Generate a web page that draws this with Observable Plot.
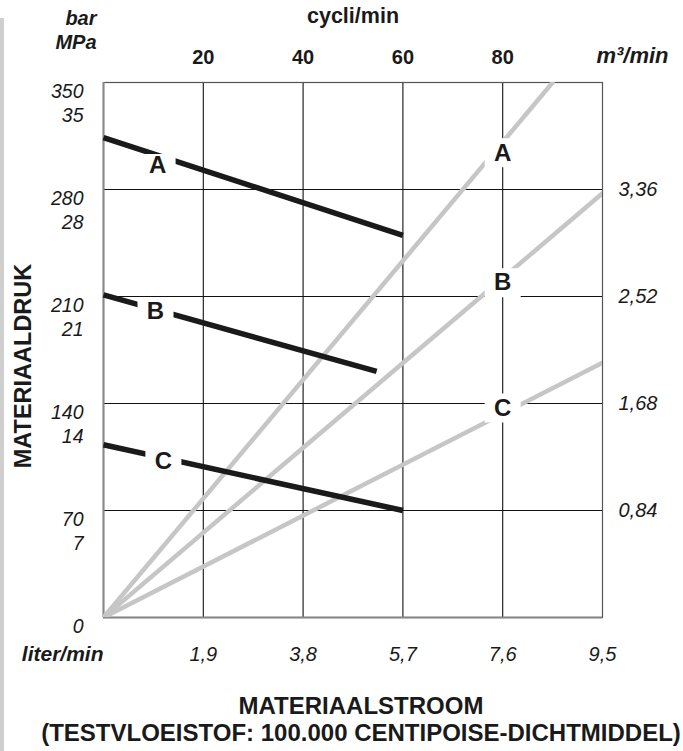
<!DOCTYPE html>
<html><head><meta charset="utf-8">
<script src="https://cdn.jsdelivr.net/npm/d3@7"></script>
<script src="https://cdn.jsdelivr.net/npm/@observablehq/plot@0.6"></script>
<style>
body{margin:0;background:#fff;}
#wrap{position:relative;width:683px;height:751px;overflow:hidden;}
#edge{position:absolute;left:0;top:18px;width:4px;height:733px;background:#cfcfcf;}
#wrap svg{position:absolute;left:0;top:0;}
</style></head><body><div id="wrap"><div id="edge"></div></div>
<script>
// ---- data ----
const literTicks = [1.9, 3.8, 5.7, 7.6, 9.5];
const cycliTicks = [20, 40, 60, 80];
const barTicks = [0, 70, 140, 210, 280, 350];
const mpaTicks = [7, 14, 21, 28, 35];
const m3Ticks = [0.84, 1.68, 2.52, 3.36];
const m3PerBar = 0.012;

const series = ["A", "B", "C"];
// material pressure lines (bar vs liter/min)
const pressureFlow = [[0, 5.7], [0, 5.2], [0, 5.7]];
const pressureBar = [[314, 250], [211, 161], [113, 70]];
// air consumption lines (m3/min vs liter/min)
const airFlow = [[0, 8.55], [0, 9.5], [0, 9.5]];
const airM3 = [[0, 4.2], [0, 3.33], [0, 2.0]];
// label anchors
const pressureLabelFlow = [1.03, 0.99, 1.14];
const pressureLabelBar = [296, 200, 102];
const airLabelFlow = [7.6, 7.6, 7.6];
const airLabelBar = [304, 219, 137];

// ---- build tables ----
const fmt = d => String(d).replace(".", ",");
const pressureRows = series.flatMap((s, i) => pressureFlow[i].map((f, j) => ({series: s, flow: f, bar: pressureBar[i][j]})));
const airRows = series.flatMap((s, i) => airFlow[i].map((f, j) => ({series: s, flow: f, bar: airM3[i][j] / m3PerBar})));
const pressureLabels = series.map((s, i) => ({s, flow: pressureLabelFlow[i], bar: pressureLabelBar[i]}));
const airLabels = series.map((s, i) => ({s, flow: airLabelFlow[i], bar: airLabelBar[i]}));

const box = (w, h) => ({draw(ctx) { ctx.moveTo(-w, -h); ctx.lineTo(w, -h); ctx.lineTo(w, h); ctx.lineTo(-w, h); ctx.closePath(); }});

const font = "'Liberation Sans', Arial, Helvetica, sans-serif";
const ink = "#1a1a1a";

const chart = Plot.plot({
  width: 683, height: 751,
  marginLeft: 103, marginRight: 81, marginTop: 82, marginBottom: 134,
  style: {fontFamily: font, background: "transparent", overflow: "visible", color: ink},
  x: {domain: [0, 9.5], axis: null},
  y: {domain: [0, 350], axis: null},
  marks: [
    Plot.gridX(literTicks.slice(0, 4), {stroke: "#111", strokeOpacity: 1, strokeWidth: 1.1}),
    Plot.gridY(barTicks.slice(1, 5), {stroke: "#111", strokeOpacity: 1, strokeWidth: 1.1}),
    Plot.frame({stroke: "#555", strokeWidth: 1.2}),
    Plot.ruleX([0], {stroke: "#888", strokeWidth: 2}),
    Plot.ruleY([0], {stroke: "#888", strokeWidth: 2}),
    Plot.line(airRows, {x: "flow", y: "bar", z: "series", stroke: "#c6c6c6", strokeWidth: 4.5, clip: true}),
    Plot.line(pressureRows, {x: "flow", y: "bar", z: "series", stroke: ink, strokeWidth: 5.5, strokeLinecap: "butt"}),
    Plot.dot(airLabels, {x: "flow", y: "bar", r: 1, symbol: box(18, 14.5), fill: "white", stroke: "none"}),
    Plot.dot(pressureLabels, {x: "flow", y: "bar", r: 1, symbol: box(18, 11), fill: "white", stroke: "none"}),
    Plot.text(airLabels, {x: "flow", y: "bar", text: "s", fontSize: 24, fontWeight: "bold", fill: ink, lineAnchor: "middle"}),
    Plot.text(pressureLabels, {x: "flow", y: "bar", text: "s", fontSize: 24, fontWeight: "bold", fill: ink, lineAnchor: "middle"}),
    // bottom ticks
    Plot.text(literTicks, {x: d => d, frameAnchor: "bottom", dy: 37, text: fmt, fontSize: 20, fontStyle: "italic", fill: ink, lineAnchor: "middle"}),
    // top ticks (cycli/min)
    Plot.text(cycliTicks, {x: (d, i) => literTicks[i], frameAnchor: "top", dy: -25, text: d => String(d), fontSize: 20, fontWeight: "bold", fill: ink, lineAnchor: "middle"}),
    // left ticks bar / MPa
    Plot.text(barTicks, {y: d => d, frameAnchor: "left", dx: -20, dy: 9, textAnchor: "end", text: d => String(d), fontSize: 19.5, fontStyle: "italic", fill: ink, lineAnchor: "middle"}),
    Plot.text(mpaTicks, {y: (d, i) => barTicks[i + 1], frameAnchor: "left", dx: -20, dy: 33.5, textAnchor: "end", text: d => String(d), fontSize: 19.5, fontStyle: "italic", fill: ink, lineAnchor: "middle"}),
    // right ticks m3/min
    Plot.text(m3Ticks, {y: (d, i) => barTicks[i + 1], frameAnchor: "right", dx: 16, textAnchor: "start", text: fmt, fontSize: 20, fontStyle: "italic", fill: ink, lineAnchor: "middle"}),
    // titles
    Plot.text(["bar"], {frameAnchor: "top-left", dx: -7, dy: -64, textAnchor: "end", fontSize: 20, fontWeight: "bold", fontStyle: "italic", fill: ink, lineAnchor: "middle"}),
    Plot.text(["MPa"], {frameAnchor: "top-left", dx: -7, dy: -40, textAnchor: "end", fontSize: 20, fontWeight: "bold", fontStyle: "italic", fill: ink, lineAnchor: "middle"}),
    Plot.text(["cycli/min"], {frameAnchor: "top", dy: -66, textAnchor: "middle", fontSize: 21.5, fontWeight: "bold", fill: ink, lineAnchor: "middle"}),
    Plot.text(["m³/min"], {frameAnchor: "top-right", dx: 66, dy: -27, textAnchor: "end", fontSize: 22, fontWeight: "bold", fontStyle: "italic", fill: ink, lineAnchor: "middle"}),
    Plot.text(["liter/min"], {frameAnchor: "bottom-left", dx: 0, dy: 37, textAnchor: "end", fontSize: 21, fontWeight: "bold", fontStyle: "italic", fill: ink, lineAnchor: "middle"}),
    Plot.text(["MATERIAALDRUK"], {frameAnchor: "left", dx: -80, dy: 16, rotate: -90, textAnchor: "middle", fontSize: 23.5, fontWeight: "bold", fill: ink, lineAnchor: "middle"}),
    Plot.text(["MATERIAALSTROOM"], {frameAnchor: "bottom", dx: 8, dy: 89, textAnchor: "middle", fontSize: 24, fontWeight: "bold", fill: ink, lineAnchor: "middle"}),
    Plot.text(["(TESTVLOEISTOF: 100.000 CENTIPOISE-DICHTMIDDEL)"], {frameAnchor: "bottom", dx: 8, dy: 116, textAnchor: "middle", fontSize: 24, fontWeight: "bold", fill: ink, lineAnchor: "middle"})
  ]
});
document.getElementById("wrap").appendChild(chart);
</script>
</body></html>
